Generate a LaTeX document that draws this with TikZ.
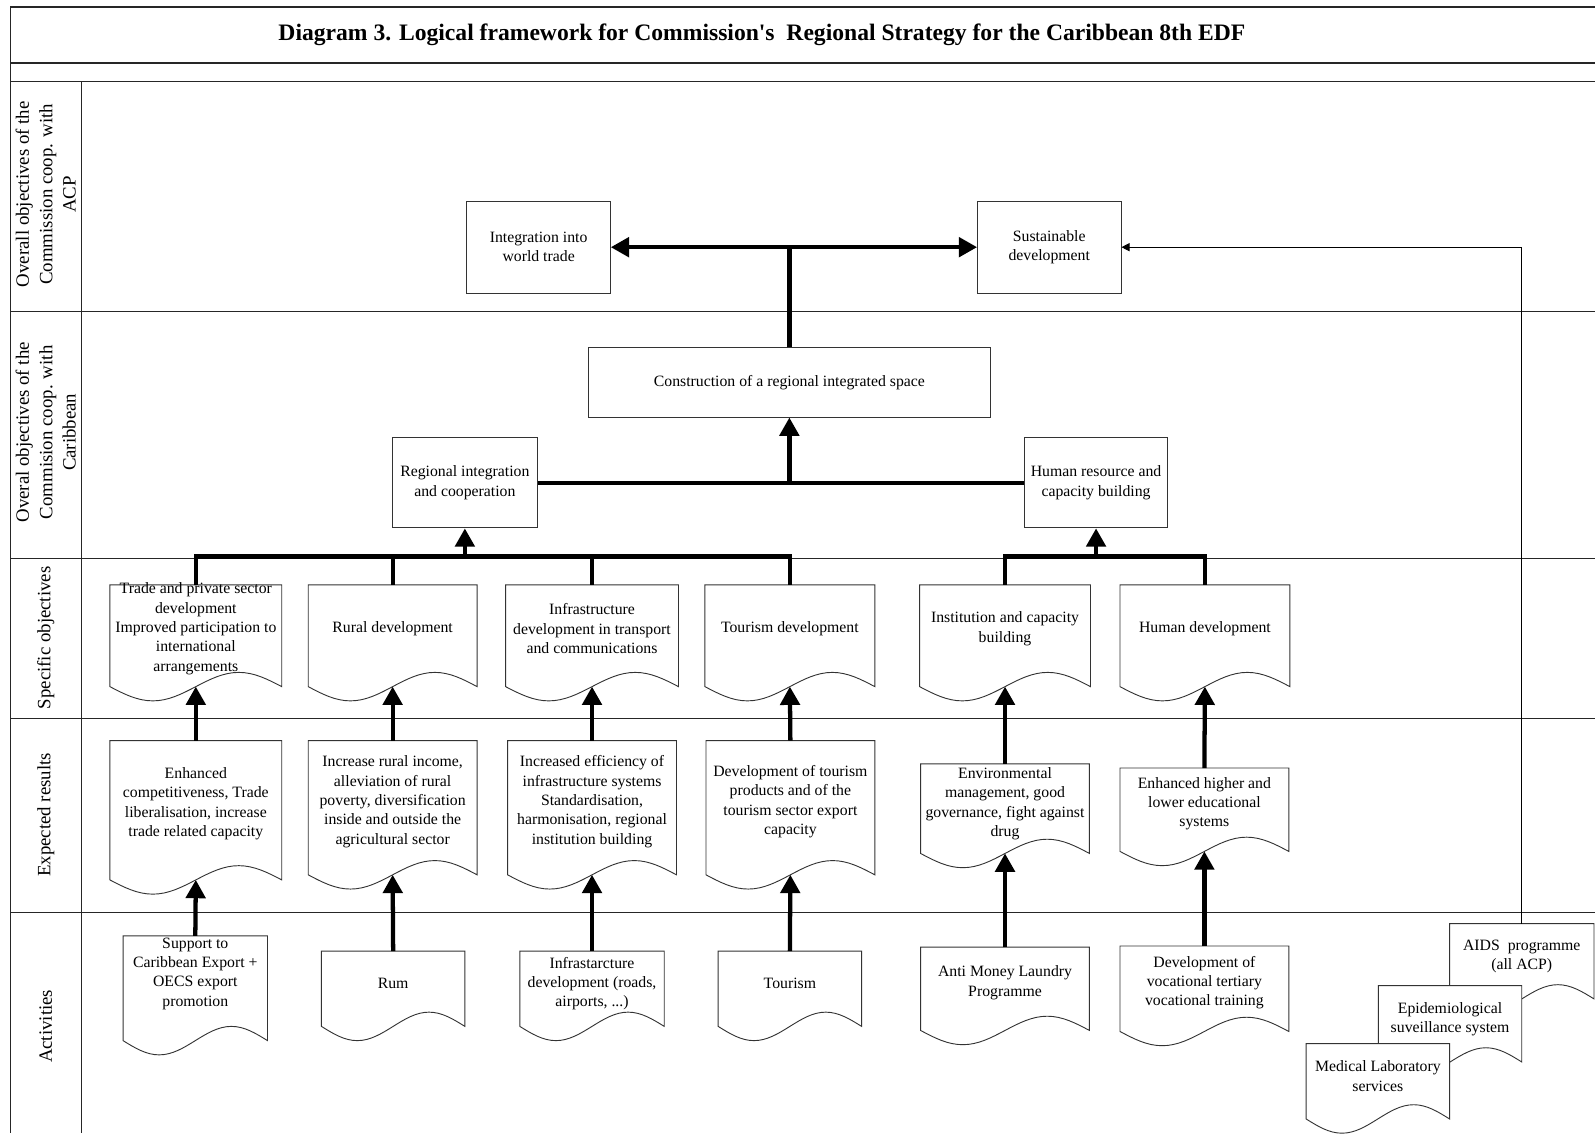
\documentclass[tikz,border=0pt]{standalone}
\usepackage{fontspec}
\setmainfont{Liberation Serif}
\usetikzlibrary{arrows.meta}

% amplitude of the wavy bottom edge of a document shape
\newcommand{\wavea}{14}
% \docbox{name}{centre x}{width}{top y}{base y}{text y}{text}
\newcommand{\docbox}[7]{%
  \draw[docshape] ({#2-#3/2},#4) -- ({#2-#3/2},#5)
     sin ({#2-#3/4},{#5+\wavea}) cos (#2,#5)
     sin ({#2+#3/4},{#5-\wavea}) cos ({#2+#3/2},#5)
     -- ({#2+#3/2},#4) -- cycle;
  \node[doctext] (#1) at (#2,#6) {#7};
  \coordinate (#1-top) at (#2,#4);
  \coordinate (#1-wave) at (#2,#5);
}

\begin{document}
\begin{tikzpicture}[x=1pt,y=-1pt,
  font=\fontsize{15.5}{19}\selectfont,
  frameline/.style={line width=1.3pt, draw=black!85},
  objbox/.style={draw=black!80, line width=0.9pt, fill=white, inner sep=2pt, align=center},
  docshape/.style={draw=black!80, line width=0.9pt, fill=white},
  doctext/.style={align=center, inner sep=0pt},
  lanelabel/.style={rotate=90, align=center, font=\fontsize{18.5}{23}\selectfont},
  heavy/.style={line width=4.2pt},
  heavyarrow/.style={line width=4.2pt, -{Triangle[width=19pt,length=18pt]}},
  linkarrow/.style={line width=1pt, -{Triangle[width=8pt,length=8pt]}},
]
\useasboundingbox (0,0) rectangle (1568,1114);
\fill[white] (0,0) rectangle (1568,1114);

% frame and swim lanes
\draw[frameline] (1568,7) -- (10,7) -- (10,1114);
\foreach \y in {62,80,306,549,706,897} \draw[frameline] (10,\y) -- (1568,\y);
\draw[frameline] (80,80) -- (80,1114);

% title
\node[font=\fontsize{23.2}{28}\selectfont\bfseries] (title) at (749,34)
  {Diagram 3. Logical framework for Commission\textquotesingle s~ Regional Strategy for the Caribbean 8th EDF};

% lane labels
\node[lanelabel] (lab1) at (45,191) {Overall objectives of the\\Commission coop. with\\ACP};
\node[lanelabel] (lab2) at (45,425) {Overal objectives of the\\Commision coop. with\\Caribbean};
\node[lanelabel] (lab3) at (45,627) {Specific objectives};
\node[lanelabel] (lab4) at (45,801) {Expected results};
\node[lanelabel] (lab5) at (45,1009) {Activities};

% overall objectives
\node[objbox, minimum width=141pt, minimum height=90pt] (integ) at (529.5,243) {Integration into\\world trade};
\node[objbox, minimum width=141pt, minimum height=90pt] (sust) at (1031.5,243) {Sustainable\\development};
\node[objbox, minimum width=396pt, minimum height=68pt] (constr) at (776,376) {Construction of a regional integrated space};
\node[objbox, minimum width=142pt, minimum height=89pt] (regint) at (457,474.5) {Regional integration\\and cooperation};
\node[objbox, minimum width=141pt, minimum height=89pt] (humres) at (1077.5,474.5) {Human resource and\\capacity building};

% specific objectives
\docbox{s1}{192.5}{169}{575}{675}{618}{Trade and private sector\\development\\Improved participation to\\international\\arrangements}
\docbox{s2}{386}{166}{575}{675}{618}{Rural development}
\docbox{s3}{582}{170}{575}{675}{618}{Infrastructure\\development in transport\\and communications}
\docbox{s4}{776.5}{167}{575}{675}{618}{Tourism development}
\docbox{s5}{988}{168}{575}{675}{618}{Institution and capacity\\building}
\docbox{s6}{1184.5}{167}{575}{675}{618}{Human development}

% expected results
\docbox{r1}{192.5}{169}{728}{865}{790}{Enhanced\\competitiveness, Trade\\liberalisation, increase\\trade related capacity}
\docbox{r2}{386}{166}{728}{860}{788}{Increase rural income,\\alleviation of rural\\poverty, diversification\\inside and outside the\\agricultural sector}
\docbox{r3}{582}{166}{728}{860}{788}{Increased efficiency of\\infrastructure systems\\Standardisation,\\harmonisation, regional\\institution building}
\docbox{r4}{777}{166}{728}{860}{788}{Development of tourism\\products and of the\\tourism sector export\\capacity}
\docbox{r5}{988}{166}{751}{839}{790}{Environmental\\management, good\\governance, fight against\\drug}
\docbox{r6}{1184}{166}{755}{837}{790}{Enhanced higher and\\lower educational\\systems}

% activities
\docbox{a1}{192}{142}{920}{1023}{957}{Support to\\Caribbean Export +\\OECS export\\promotion}
\docbox{a2}{386.5}{141}{935}{1009}{967}{Rum}
\docbox{a3}{582}{142}{935}{1009}{967}{Infrastarcture\\development (roads,\\airports, ...)}
\docbox{a4}{776.5}{141}{935}{1009}{967}{Tourism}
\docbox{a5}{988}{166}{931}{1013}{966}{Anti Money Laundry\\Programme}
\docbox{a6}{1184}{166}{930}{1014}{966}{Development of\\vocational tertiary\\vocational training}
\docbox{aids}{1496}{142}{908}{982}{940}{AIDS\ \ programme\\(all ACP)}
\docbox{epi}{1425.5}{141}{969}{1044}{1002}{Epidemiological\\suveillance system}
\docbox{med}{1354.5}{141}{1026}{1100}{1058}{Medical Laboratory\\services}

% activities -> results -> specific objectives
\foreach \i in {1,...,6} {
  \draw[heavyarrow] (a\i-top) -- (r\i-wave);
  \draw[heavyarrow] (r\i-top) -- (s\i-wave);
}

% specific objectives -> regional objectives
\coordinate (busa) at (457,547);
\draw[heavy] (s1-top) |- (busa) -- (busa -| s4-top) -- (s4-top);
\draw[heavy] (s2-top) -- (s2-top |- busa);
\draw[heavy] (s3-top) -- (s3-top |- busa);
\draw[heavyarrow] (busa) -- (regint.south);

\coordinate (busb) at (1077.5,547);
\draw[heavy] (s5-top) |- (busb) -| (s6-top);
\draw[heavyarrow] (busb) -- (humres.south);

% regional objectives -> integrated space
\coordinate (busc) at (776,474.5);
\draw[heavy] (regint.east) -- (humres.west);
\draw[heavyarrow] (busc) -- (constr.south);

% integrated space -> overall objectives
\coordinate (busd) at (776,243);
\draw[heavy] (constr.north) -- (busd);
\draw[heavyarrow] (busd) -- (integ.east);
\draw[heavyarrow] (busd) -- (sust.west);

% AIDS programme -> sustainable development
\draw[linkarrow] (aids-top) |- (sust.east);
\end{tikzpicture}
\end{document}
